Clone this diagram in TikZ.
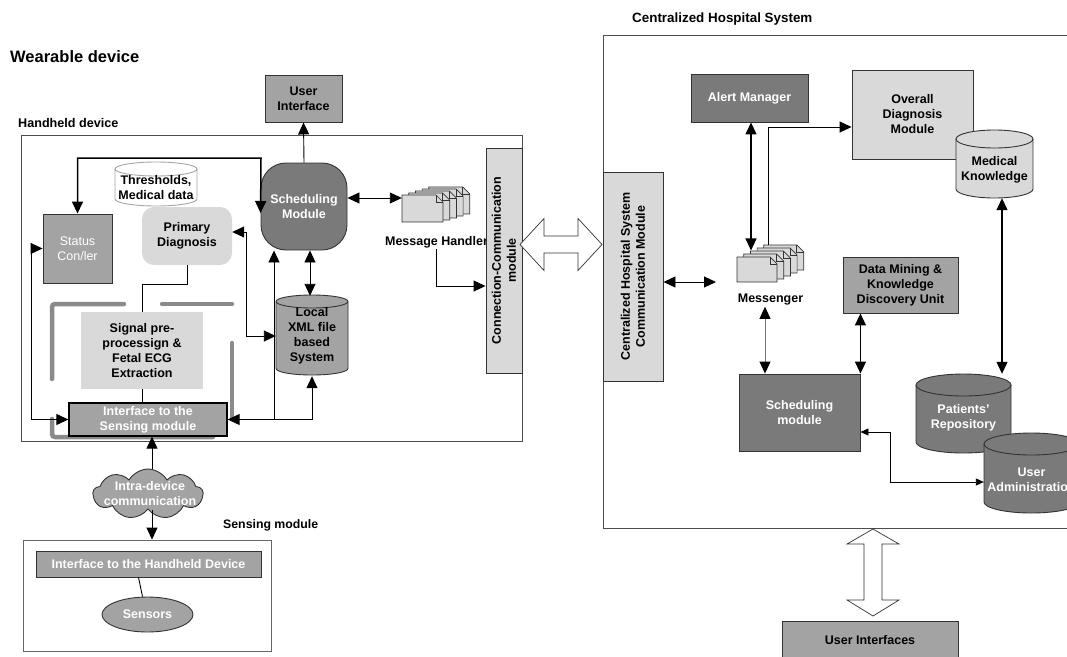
\documentclass[tikz,border=0pt]{standalone}
\usepackage{fontspec}
\setmainfont{Liberation Sans}
\usetikzlibrary{arrows.meta,shapes.geometric,shapes.symbols}
\definecolor{dk}{HTML}{7A7A7A}
\definecolor{md}{HTML}{A3A3A3}
\definecolor{lt}{HTML}{D9D9D9}
\definecolor{barc}{HTML}{8A8A8A}
\definecolor{edge}{HTML}{333333}
\tikzset{
  txt/.style={font=\fontsize{12.5}{15}\selectfont\bfseries, align=center, inner sep=0pt},
  dkbox/.style={txt, fill=dk, draw=edge, line width=0.9pt, text=white},
  mdbox/.style={txt, fill=md, draw=edge, line width=0.9pt},
  ltbox/.style={txt, fill=lt, draw=edge, line width=0.9pt},
  frame/.style={draw=black!70, line width=0.9pt, inner sep=0pt},
  wire/.style={line width=0.9pt, draw=black},
  small/.style={>={Triangle[length=8pt,width=7pt]}},
  bar/.style={line width=4.5pt, draw=barc, line cap=round},
  hollow/.style={draw=black!80, fill=white, line width=0.7pt},
  title/.style={anchor=west, inner sep=0pt}
}
\newcommand\mycyl[6]{%
  \pgfmathsetmacro\cylrx{(#3-#2)/2}%
  \pgfmathsetmacro\cylyt{#4+#6}%
  \pgfmathsetmacro\cylyb{#5-#6}%
  \path[#1] (#2,\cylyt) -- (#2,\cylyb) arc[start angle=180,end angle=0,x radius=\cylrx,y radius=#6] -- (#3,\cylyt) arc[start angle=0,end angle=-180,x radius=\cylrx,y radius=#6] -- cycle;
  \path[#1,fill=none] (#2,\cylyt) arc[start angle=180,end angle=0,x radius=\cylrx,y radius=#6];
}
\newcommand\mypage[4]{%
  \path[fill=lt, draw=edge, line width=0.7pt] (#1,#2) -- ++(#3-7,0) -- ++(7,7) -- ++(0,#4-7) -- ++(-#3,0) -- cycle;
  \draw[edge, line width=0.7pt] ({#1+#3-7},#2) -- ++(0,7) -- ++(7,0);
}
\begin{document}
\begin{tikzpicture}[x=1pt,y=-1pt,>={Triangle[length=12pt,width=11pt]}]
\useasboundingbox (0,0) rectangle (1067,656);
% titles
\node[title,font=\fontsize{16.5}{18}\selectfont\bfseries] (twear) at (10,57) {Wearable device};
\node[title,font=\fontsize{12.6}{15}\selectfont\bfseries] (thand) at (18,123) {Handheld device};
\node[title,font=\fontsize{13.4}{15}\selectfont\bfseries] (tchs) at (632,19) {Centralized Hospital System};
\node[title,font=\fontsize{12.3}{15}\selectfont\bfseries] (tsens) at (223,525) {Sensing module};
% containers
\node[frame, minimum width=501pt, minimum height=306pt] (hh) at (271.5,288) {};
\node[frame, minimum width=472pt, minimum height=493pt] (chs) at (839,281.5) {};
\node[frame, draw=black!60, minimum width=248pt, minimum height=111pt] (sbox) at (147,595.5) {};
% grey bars
\draw[bar,rounded corners=3pt] (124,304) -- (52,304) -- (52,379);
\draw[bar] (162,304) -- (232,304);
\draw[bar] (232,343) -- (232,417);
\draw[bar,rounded corners=3pt] (52,419) -- (52,437) -- (213,437);
% handheld nodes
\node[mdbox, minimum width=77pt, minimum height=47pt] (ui) at (303.5,98.5) {User\\Interface};
\node[dkbox, rounded corners=25pt, minimum width=86pt, minimum height=87pt] (sched) at (304,206.5) {Scheduling\\Module};
\mycyl{fill=white,draw=black!35,line width=0.9pt}{115}{197}{162}{206}{7}
\node[txt] (thr) at (156,188) {Thresholds,\\Medical data};
\node[mdbox, font=\fontsize{12.5}{15}\selectfont, text=white, minimum width=69pt, minimum height=69pt] (status) at (77.5,248.5) {Status\\Con/ler};
\node[txt, fill=lt, rounded corners=12pt, minimum width=90pt, minimum height=58pt] (prim) at (187,236) {Primary\\Diagnosis};
\node[txt, fill=lt, minimum width=122pt, minimum height=77pt] (sig) at (142,350.5) {Signal pre-\\processign \&\\Fetal ECG\\Extraction};
\node[mdbox, text=white, draw=black, line width=1.3pt, minimum width=158pt, minimum height=33pt] (iface) at (148,419.5) {Interface to the\\Sensing module};
\mycyl{fill=md,draw=edge,line width=0.9pt}{276}{348}{295}{375}{6.5}
\node[txt, minimum width=72pt, minimum height=80pt] (xml) at (312,336) {Local\\XML file\\based\\System};
\foreach \k in {4,3,2,1,0} { \mypage{402+6.7*\k}{195-2*\k}{41}{27} }
\node[minimum width=41pt, minimum height=27pt, inner sep=0pt] (msg) at (422.5,208.5) {};
\node[txt, inner sep=1pt] (msglbl) at (436.5,242) {Message Handler};
\node[ltbox, minimum width=36pt, minimum height=225pt] (conn) at (504,260.5) {};
\node[txt, rotate=90] at (conn.center) {Connection-Communication\\module};
% sensing
\node[cloud, cloud puffs=9, cloud puff arc=120, aspect=2.3, fill=md, draw=edge, line width=0.9pt, minimum width=110pt, minimum height=50pt, inner sep=0pt] (cloud) at (148,494) {};
\node[txt, text=white] (cloudtxt) at (150,494) {Intra-device\\communication};
\node[mdbox, text=white, minimum width=225pt, minimum height=26pt] (ifhh) at (148.5,564) {Interface to the Handheld Device};
\node[ellipse, txt, fill=md, draw=edge, line width=0.9pt, text=white, minimum width=91pt, minimum height=35pt] (sensors) at (147.5,614.5) {Sensors};
% hospital nodes
\node[ltbox, minimum width=60pt, minimum height=209pt] (comm) at (633,276.5) {};
\node[txt, rotate=90] at (comm.center) {Centralized Hospital System\\Communication Module};
\node[dkbox, minimum width=117pt, minimum height=48pt] (alert) at (749.5,98) {Alert Manager};
\node[ltbox, minimum width=121pt, minimum height=89pt] (overall) at (912.5,114.5) {Overall\\Diagnosis\\Module};
\mycyl{fill=lt,draw=edge,line width=0.9pt}{956}{1033}{130}{198}{9}
\node[minimum width=77pt, minimum height=68pt, inner sep=0pt] (mk) at (994.5,164) {};
\node[txt] (mktxt) at (994.5,170) {Medical\\Knowledge};
\foreach \k in {4,3,2,1,0} { \mypage{737+6.7*\k}{257-3*\k}{40}{25} }
\node[minimum width=40pt, minimum height=25pt, inner sep=0pt] (msgr) at (757,269.5) {};
\node[txt, inner sep=1pt] (msgrlbl) at (770.5,300) {Messenger};
\node[mdbox, minimum width=115pt, minimum height=56pt] (dm) at (900.5,285) {Data Mining \&\\Knowledge\\Discovery Unit};
\node[dkbox, minimum width=121pt, minimum height=77pt] (sched2) at (799.5,412.5) {Scheduling\\module};
\mycyl{fill=dk,draw=edge,line width=0.9pt}{916}{1011}{374}{453}{11}
\node[minimum width=95pt, minimum height=79pt, inner sep=0pt] (pr) at (963.5,413.5) {};
\node[txt, text=white] (prtxt) at (963.5,418) {Patients'\\Repository};
\mycyl{fill=dk,draw=edge,line width=0.9pt}{984}{1079}{433}{513}{11}
\node[minimum width=95pt, minimum height=80pt, inner sep=0pt] (ua) at (1031.5,473) {};
\node[txt, text=white] (uatxt) at (1031.5,480) {User\\Administration};
\node[mdbox, minimum width=176pt, minimum height=38pt] (uis) at (870,640) {User Interfaces};
% coordinates
\coordinate (j1) at (274,419.5);
\coordinate (msgrin) at (716,282);
\coordinate (msgrback) at (768,245);
% connectors handheld
\draw[wire,->] (sched.north) -- (ui.south);
\draw[wire,line width=1.5pt,<->] (status.north) |- (261,158) -- ([yshift=-6.5pt]sched.west);
\draw[wire,<->] ([yshift=4pt]prim.east) -| (246,336) -- (xml.west);
\draw[wire] (prim.south) |- (142,284) -- (sig.north);
\draw[wire] (sig.south) -- (sig.south |- iface.north);
\draw[wire,<->] (status.west) -- ++(-11,0) |- (iface.west);
\draw[wire,<->] (iface.east) -| (xml.south);
\draw[wire,->] (j1) -- (sched.south -| j1);
\draw[wire,<->] ([xshift=6pt]sched.south) -- ([xshift=6pt]sched.south |- xml.north);
\draw[wire,<->] ([yshift=8.5pt]sched.east) -- ([yshift=8.5pt]sched.east -| msg.west);
\draw[wire,->] (msglbl.south) |- ([yshift=-25.5pt]conn.west);
\draw[wire,->] ([xshift=4pt]cloud.north) -- ([xshift=4pt]cloud.north |- iface.south);
\draw[wire,->] ([xshift=4pt]cloud.south) -- ([xshift=4pt]cloud.south |- sbox.north);
\draw[wire] ([xshift=-10pt]ifhh.south) -- ([xshift=-5pt]sensors.north);
% connectors hospital
\draw[wire,<->] ([yshift=-5.5pt]comm.east) -- (msgrin);
\draw[wire,line width=1.2pt,<->] ([xshift=1.5pt]alert.south) -- ++(0,128);
\draw[wire,->] (msgrback) |- ([yshift=-12.5pt]overall.west);
\draw[wire,draw=black!55,{Triangle[length=12pt,width=11pt,black]}-{Triangle[length=12pt,width=11pt,black]}] (msgrlbl.south -| 765,0) -- (sched2.north -| 765,0);
\draw[wire,line width=1.3pt,<->] (sched2.north east) -- (sched2.north east |- dm.south);
\draw[wire,line width=1.2pt,<->] (mk.south -| 1002,0) -- (pr.north -| 1002,0);
\draw[wire,small,<->] (ua.west |- 0,482) -| (890,432) -- (sched2.east |- 0,432);
% hollow arrows
\draw[hollow] (520,244.5) -- (544,218.5) -- (544,236) -- (578,236) -- (578,218.5) -- (602,244.5) -- (578,270.5) -- (578,253) -- (544,253) -- (544,270.5) -- cycle;
\draw[hollow] (873,529) -- (847,544) -- (864,544) -- (864,600) -- (847,600) -- (873,616) -- (899,600) -- (882,600) -- (882,544) -- (899,544) -- cycle;
\end{tikzpicture}
\end{document}
